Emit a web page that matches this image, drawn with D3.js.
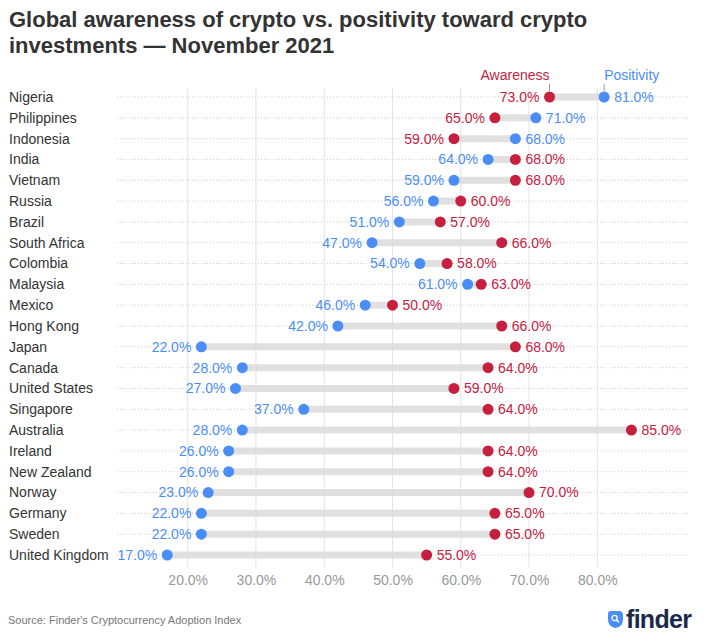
<!DOCTYPE html>
<html>
<head>
<meta charset="utf-8">
<script src="https://cdn.jsdelivr.net/npm/d3@7"></script>
<style>
  html, body { margin: 0; padding: 0; background: #fff; }
  svg { display: block; font-family: "Liberation Sans", Arial, Helvetica, sans-serif; }
</style>
</head>
<body>
<svg id="chart" width="707" height="640"></svg>
<script>
const countries = ["Nigeria", "Philippines", "Indonesia", "India", "Vietnam", "Russia", "Brazil", "South Africa", "Colombia", "Malaysia", "Mexico", "Hong Kong", "Japan", "Canada", "United States", "Singapore", "Australia", "Ireland", "New Zealand", "Norway", "Germany", "Sweden", "United Kingdom"];
const awareness = [73, 65, 59, 68, 68, 60, 57, 66, 58, 63, 50, 66, 68, 64, 59, 64, 85, 64, 64, 70, 65, 65, 55];
const positivity = [81, 71, 68, 64, 59, 56, 51, 47, 54, 61, 46, 42, 22, 28, 27, 37, 28, 26, 26, 23, 22, 22, 17];
const xTicks = [20, 30, 40, 50, 60, 70, 80];
const seriesNames = ["Awareness", "Positivity"];

const RED = "#c7203f", BLUE = "#4b8df6";
const data = countries.map((c, i) => ({ country: c, a: awareness[i], p: positivity[i] }));

const svg = d3.select("#chart");

// Title
const title = svg.append("text").attr("x", 9).attr("fill", "#333")
  .attr("font-size", 22).attr("font-weight", "bold");
title.append("tspan").attr("x", 9).attr("y", 27).text("Global awareness of crypto vs. positivity toward crypto");
title.append("tspan").attr("x", 9).attr("y", 53).text("investments \u2014 November 2021");

const x = d3.scaleLinear().domain([20, 80]).range([187.7, 597.3]);
const y = d3.scalePoint().domain(countries).range([97, 555]);

// row dotted lines
svg.append("g").selectAll("line").data(data).join("line")
  .attr("x1", 117).attr("x2", 690)
  .attr("y1", d => y(d.country)).attr("y2", d => y(d.country))
  .attr("stroke", "#ccc").attr("stroke-width", 1).attr("stroke-dasharray", "1,2");

// bars
svg.append("g").selectAll("line").data(data).join("line")
  .attr("x1", d => x(Math.min(d.a, d.p))).attr("x2", d => x(Math.max(d.a, d.p)))
  .attr("y1", d => y(d.country)).attr("y2", d => y(d.country))
  .attr("stroke", "#e0e0e0").attr("stroke-width", 7);

// gridlines + axis
const axis = d3.axisBottom(x).tickValues(xTicks).tickSize(0).tickFormat(d => d3.format(".1f")(d) + "%");
const ag = svg.append("g").attr("transform", "translate(0,568)").call(axis);
ag.select(".domain").remove();
ag.selectAll("text").attr("fill", "#999").attr("font-size", 14)
  .attr("font-family", "Liberation Sans, Arial, sans-serif").attr("dy", "0").attr("y", 17);
svg.append("g").selectAll("line").data(xTicks).join("line")
  .attr("x1", d => x(d)).attr("x2", d => x(d)).attr("y1", 88).attr("y2", 567)
  .attr("stroke", "#ddd").attr("stroke-width", 1).attr("opacity", 0.8);

// country labels
svg.append("g").selectAll("text").data(data).join("text")
  .attr("x", 9).attr("y", d => y(d.country)).attr("dy", "0.35em")
  .attr("fill", "#333").attr("font-size", 14).text(d => d.country);

// dots
function series(key, color) {
  const g = svg.append("g");
  g.selectAll("circle").data(data).join("circle")
    .attr("cx", d => x(d[key])).attr("cy", d => y(d.country)).attr("r", 5.5).attr("fill", color);
  const other = key === "a" ? "p" : "a";
  g.selectAll("text").data(data).join("text")
    .attr("x", d => x(d[key]) + (d[key] >= d[other] ? 10 : -10))
    .attr("text-anchor", d => d[key] >= d[other] ? "start" : "end")
    .attr("y", d => y(d.country)).attr("dy", "0.35em")
    .attr("fill", color).attr("font-size", 14)
    .text(d => d3.format(".1f")(d[key]) + "%");
}
series("a", RED);
series("p", BLUE);

// legend annotations on first row
const first = data[0];
const leg = svg.append("g");
leg.append("line").attr("x1", x(first.a)).attr("x2", x(first.a)).attr("y1", 84).attr("y2", 91).attr("stroke", "#999");
leg.append("line").attr("x1", x(first.p)).attr("x2", x(first.p)).attr("y1", 84).attr("y2", 91).attr("stroke", "#999");
leg.append("text").attr("x", x(first.a)).attr("y", 80).attr("text-anchor", "end")
  .attr("fill", RED).attr("font-size", 14).text(seriesNames[0]);
leg.append("text").attr("x", x(first.p)).attr("y", 80).attr("text-anchor", "start")
  .attr("fill", BLUE).attr("font-size", 14).text(seriesNames[1]);

// source
svg.append("text").attr("x", 8).attr("y", 624).attr("fill", "#777").attr("font-size", 11)
  .text("Source: Finder's Cryptocurrency Adoption Index");

// finder logo
const logo = svg.append("g").attr("transform", "translate(608,611)");
logo.append("path").attr("d", "M3,0 H11 Q15,0 15,4 V8 Q15,16 7.5,17 Q0,16 0,8 V3 Q0,0 3,0 Z").attr("fill", "#4b8df6");
logo.append("circle").attr("cx", 6.5).attr("cy", 7).attr("r", 2.6).attr("fill", "none").attr("stroke", "#fff").attr("stroke-width", 1.3);
logo.append("line").attr("x1", 8.4).attr("y1", 8.9).attr("x2", 10.8).attr("y2", 11.3).attr("stroke", "#fff").attr("stroke-width", 1.5);
svg.append("text").attr("x", 626).attr("y", 628).attr("fill", "#1c2a4a").attr("font-size", 25)
  .attr("font-weight", "bold").attr("letter-spacing", "-0.7").text("finder");
</script>
</body>
</html>
